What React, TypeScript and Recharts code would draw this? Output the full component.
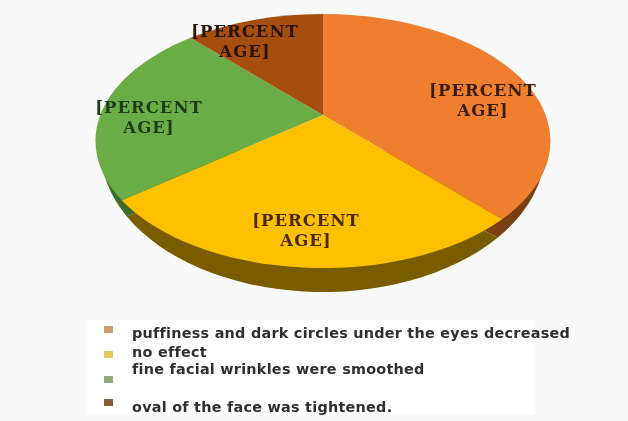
import React from "react";
import { Legend, Pie, PieChart } from "recharts";

const categories = [
  "puffiness and dark circles under the eyes decreased",
  "no effect",
  "fine facial wrinkles were smoothed",
  "oval of the face was tightened.",
];
const values = [38, 26.5, 23.5, 12];
const faceColors = ["#ef7e2e", "#ffc000", "#6aad47", "#a54e0e"];
const wallColors = ["#7a3f12", "#7a5c00", "#3f6b28", "#5e2c08"];
const legendColors = ["#cf9a6c", "#e6c85e", "#8fab7b", "#8c5a32"];
const labelColors = ["#3a1c08", "#4a2a04", "#1d3d10", "#2a1204"];

const chartData = categories.map((name, i) => ({ name, value: values[i], fill: faceColors[i] }));

// tilted disc: the hub sits above the centre of the ellipse
const STRETCH = 227.5 / 127;
const HUB = 0.205;
const LOWER = { dy: 9, rx: 222, ry: 142 };
const labelSpots = [
  [160, -42],
  [-17, 88],
  [-174, -25],
  [-78, -101],
];
const legendTextTops = [8, 27, 44, 82];
const legendMarkTops = [6, 31, 56, 79];

// pie angle -> angle on the rim of the tilted ellipse, clockwise from the top
function rimAngle(angle: number) {
  const theta = ((90 - angle) * Math.PI) / 180;
  const c = Math.cos(theta);
  const t = Math.acos((c + HUB) / (1 + HUB * c));
  return theta <= Math.PI ? t : 2 * Math.PI - t;
}

function wedge(x: number, y: number, rx: number, ry: number, t1: number, t2: number, tipY: number) {
  const large = t2 - t1 > Math.PI ? 1 : 0;
  const x1 = x + rx * Math.sin(t1);
  const y1 = y - ry * Math.cos(t1);
  const x2 = x + rx * Math.sin(t2);
  const y2 = y - ry * Math.cos(t2);
  return `M${x},${tipY} L${x1},${y1} A${rx},${ry} 0 ${large} 1 ${x2},${y2} Z`;
}

function FaceSector(props: any) {
  const { cx, cy, outerRadius, startAngle, endAngle, fill } = props;
  const d = wedge(cx, cy, outerRadius * STRETCH, outerRadius, rimAngle(startAngle), rimAngle(endAngle), cy - HUB * outerRadius);
  return <path d={d} fill={fill} />;
}

function WallSector(props: any) {
  const { cx, cy, startAngle, endAngle, index } = props;
  const t1 = Math.max(rimAngle(startAngle), Math.PI / 2);
  const t2 = Math.min(rimAngle(endAngle), (3 * Math.PI) / 2);
  if (t1 >= t2) return null;
  const y = cy + LOWER.dy;
  return <path d={wedge(cx, y, LOWER.rx, LOWER.ry, t1, t2, y)} fill={wallColors[index]} />;
}

function PercentLabel(props: any) {
  const { cx, cy, index } = props;
  const x = cx + labelSpots[index][0];
  const y = cy + labelSpots[index][1];
  return (
    <text
      x={x}
      y={y}
      textAnchor="middle"
      fontFamily="'DejaVu Serif', serif"
      fontWeight="bold"
      fontSize={16.5}
      letterSpacing={1}
      fill={labelColors[index]}
    >
      <tspan x={x} dy={-3}>[PERCENT</tspan>
      <tspan x={x} dy={20}>AGE]</tspan>
    </text>
  );
}

function LegendBox() {
  return (
    <div style={{ position: "relative", width: 449, height: 95, background: "#ffffff", fontFamily: "'DejaVu Sans', sans-serif", fontWeight: "bold", fontSize: 14.4, letterSpacing: 0.25, color: "#2f2f2f", whiteSpace: "nowrap" }}>
      {categories.map((name, i) => (
        <React.Fragment key={name}>
          <div style={{ position: "absolute", left: 18, top: legendMarkTops[i], width: 9, height: 7, background: legendColors[i] }} />
          <div style={{ position: "absolute", left: 46, top: legendTextTops[i] - 3 }}>{name}</div>
        </React.Fragment>
      ))}
    </div>
  );
}

export default function App() {
  return (
    <div style={{ position: "absolute", left: 0, top: 0, width: 628, height: 421, background: "#f9f9f9", overflow: "hidden", filter: "blur(0.6px)" }}>
      <PieChart width={628} height={421} margin={{ top: 0, right: 0, bottom: 0, left: 0 }}>
        <Pie
          data={chartData}
          dataKey="value"
          cx={323}
          cy={141}
          outerRadius={127}
          startAngle={90}
          endAngle={-270}
          stroke="none"
          legendType="none"
          shape={WallSector}
          isAnimationActive={false}
        />
        <Pie
          data={chartData}
          dataKey="value"
          nameKey="name"
          cx={323}
          cy={141}
          outerRadius={127}
          startAngle={90}
          endAngle={-270}
          stroke="none"
          shape={FaceSector}
          label={PercentLabel}
          labelLine={false}
          isAnimationActive={false}
        />
        <Legend content={LegendBox} wrapperStyle={{ position: "absolute", left: 86, top: 320, width: 449, height: 95 }} />
      </PieChart>
    </div>
  );
}
